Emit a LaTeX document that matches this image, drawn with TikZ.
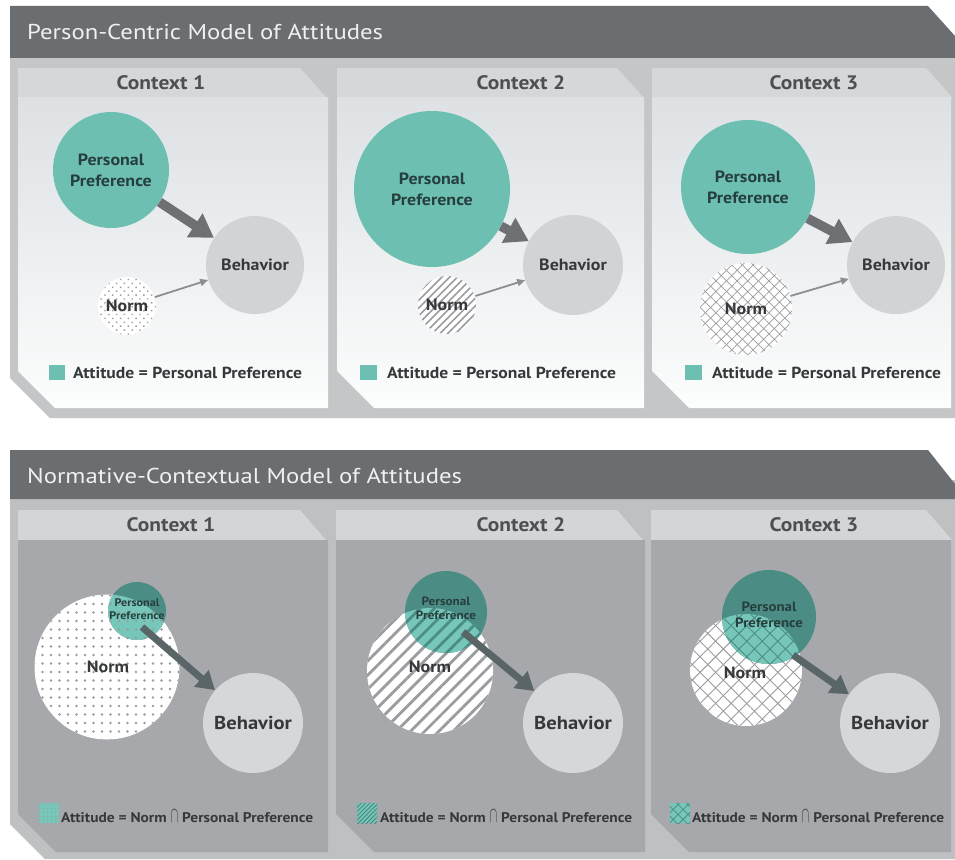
\documentclass[tikz,border=0pt]{standalone}
\usepackage{fontspec}
\setmainfont[FakeStretch=1.1]{PT Sans}
\newfontfamily\titlefont[FakeStretch=1.15]{PT Sans}
\usetikzlibrary{arrows.meta,patterns.meta}
\definecolor{hdr}{HTML}{6B6E70}
\definecolor{frameT}{HTML}{C4C6C8}
\definecolor{frameB}{HTML}{BEC0C2}
\definecolor{stripT}{HTML}{D5D7D9}
\definecolor{stripB}{HTML}{D3D5D7}
\definecolor{pantop}{HTML}{DDE1E4}
\definecolor{panbot}{HTML}{FCFDFD}
\definecolor{panB}{HTML}{A6A8AB}
\definecolor{behg}{HTML}{D1D3D4}
\definecolor{behgB}{HTML}{D5D7D9}
\definecolor{tealT}{HTML}{6DC0B1}
\definecolor{tealD}{HTML}{4B8D84}
\definecolor{tealL}{HTML}{76C7B9}
\definecolor{arrT}{HTML}{6E7073}
\definecolor{arrB}{HTML}{5A6567}
\definecolor{thinA}{HTML}{8C8E90}
\definecolor{txt}{HTML}{37383A}
\definecolor{ctxt}{HTML}{4E4F51}
\definecolor{pptxt}{HTML}{263F3E}
\definecolor{patg}{HTML}{9A9C9F}
\newcommand{\capsym}{\scalebox{0.8}[1.55]{$\cap$}}
\begin{document}
\begin{tikzpicture}[x=1pt,y=-1pt,
  titletext/.style={font=\titlefont\fontsize{21.5}{22}\selectfont, text=white!94!black, anchor=west, inner sep=0},
  ctx/.style={font=\fontsize{19.5}{20}\selectfont\bfseries, text=ctxt, inner sep=0},
  lbl/.style={font=\fontsize{16.3}{21}\selectfont\bfseries, text=txt, align=center, inner sep=0},
  pplbl/.style={lbl, text=pptxt},
  behlbl/.style={font=\fontsize{18.7}{20}\selectfont\bfseries, text=txt},
  smlbl/.style={font=\fontsize{11}{13}\selectfont\bfseries, text=pptxt, align=center, inner sep=0},
  legtext/.style={font=\fontsize{16}{17}\selectfont\bfseries, text=txt, anchor=west, inner sep=0},
  legtextB/.style={legtext, font=\fontsize{14}{17}\selectfont\bfseries},
  behT/.style={circle, fill=behg, inner sep=0, lbl},
  behB/.style={circle, fill=behgB, inner sep=0, lbl, behlbl},
  ppT/.style={circle, fill=tealT, inner sep=0, pplbl},
  ppB/.style={circle, fill=tealD, inner sep=0},
  normc/.style={circle, inner sep=0, preaction={fill=white}, pattern color=patg},
  thickarr/.style={draw=arrT, line width=9.5pt, -{Triangle[length=23pt,width=27pt]}},
  botarr/.style={draw=arrB, line width=7pt, -{Triangle[length=18pt,width=21pt]}},
  thinarr/.style={draw=thinA, line width=1.8pt, -{Triangle[length=8pt,width=7pt]}}
]
\useasboundingbox (0,0) rectangle (955,859);
\fill[white] (0,0) rectangle (955,859);

%================ TOP SECTION ================
\fill[frameT] (10,40) -- (955,40) -- (955,418) -- (50,418) -- (10,378) -- cycle;
\fill[hdr] (10,6) -- (928,6) -- (955,36) -- (955,58) -- (10,58) -- cycle;
\node[titletext] (t1) at (27,32) {Person-Centric Model of Attitudes};

% strips
\fill[stripT] (18,68) -- (300,68) -- (326,97) -- (18,97) -- cycle;
\fill[stripT] (337,68) -- (617,68) -- (643,97) -- (337,97) -- cycle;
\fill[stripT] (652,68) -- (926,68) -- (952,97) -- (652,97) -- cycle;
% panels
\shade[top color=pantop, bottom color=panbot] (18,97) -- (328,97) -- (328,408) -- (55,408) -- (18,371) -- cycle;
\shade[top color=pantop, bottom color=panbot] (337,97) -- (644,97) -- (644,408) -- (374,408) -- (337,371) -- cycle;
\shade[top color=pantop, bottom color=panbot] (652,97) -- (951,97) -- (951,408) -- (689,408) -- (652,371) -- cycle;

\node[ctx] (c1) at (161,83) {Context 1};
\node[ctx] (c2) at (521,83) {Context 2};
\node[ctx] (c3) at (814,83) {Context 3};

% panel 1
\node[ppT, minimum size=116pt] (pp1) at (111,170) {Personal\\Preference};
\node[behT, minimum size=98pt] (beh1) at (255,265) {Behavior};
\node[normc, minimum size=58pt, pattern={Dots[radius=1pt,distance=5.5pt,angle=45]}, lbl] (n1) at (127,306) {Norm};
\draw[thickarr] (pp1) -- (beh1);
\draw[thinarr] (n1) -- (beh1);
\fill[tealT] (49,365) rectangle (65,380);
\node[legtext] (l1) at (73,372.5) {Attitude = Personal Preference};

% panel 2
\node[ppT, minimum size=156pt] (pp2) at (432,189) {Personal\\Preference};
\node[behT, minimum size=100pt] (beh2) at (573,265) {Behavior};
\node[normc, minimum size=58pt, pattern={Lines[angle=45,distance=5.5pt,line width=1.6pt]}, lbl] (n2) at (447,305) {Norm};
\draw[thickarr] (pp2) -- (beh2);
\draw[thinarr] (n2) -- (beh2);
\fill[tealT] (360,365) rectangle (377,380);
\node[legtext] (l2) at (387,372.5) {Attitude = Personal Preference};

% panel 3
\node[normc, minimum size=92pt, pattern={Lines[angle=45,distance=7.5pt,line width=0.7pt]}] (n3) at (746,309) {};
\fill[pattern={Lines[angle=-45,distance=7.5pt,line width=0.7pt]}, pattern color=patg] (n3.center) circle[radius=46pt];
\node[lbl] (n3t) at (n3.center) {Norm};
\node[ppT, minimum size=134pt] (pp3) at (748,187) {Personal\\Preference};
\node[behT, minimum size=98pt] (beh3) at (896,265) {Behavior};
\draw[thickarr] (pp3) -- (beh3);
\draw[thinarr] (n3) -- (beh3);
\fill[tealT] (685,365) rectangle (702,380);
\node[legtext] (l3) at (712,372.5) {Attitude = Personal Preference};

%================ BOTTOM SECTION ================
\fill[frameB] (10,480) -- (955,480) -- (955,859) -- (45,859) -- (10,824) -- cycle;
\fill[hdr] (10,450) -- (928,450) -- (955,484) -- (955,499) -- (10,499) -- cycle;
\node[titletext] (t2) at (27,476) {Normative-Contextual Model of Attitudes};

\fill[stripB] (18,510) -- (300,510) -- (326,540) -- (18,540) -- cycle;
\fill[stripB] (336,510) -- (617,510) -- (643,540) -- (336,540) -- cycle;
\fill[stripB] (651,510) -- (926,510) -- (952,540) -- (651,540) -- cycle;
\fill[panB] (18,540) -- (328,540) -- (328,852) -- (56,852) -- (18,814) -- cycle;
\fill[panB] (336,540) -- (645,540) -- (645,852) -- (374,852) -- (336,814) -- cycle;
\fill[panB] (651,540) -- (951,540) -- (951,852) -- (689,852) -- (651,814) -- cycle;

\node[ctx] (c4) at (171,525) {Context 1};
\node[ctx] (c5) at (521,525) {Context 2};
\node[ctx] (c6) at (814,525) {Context 3};

% panel 4
\node[normc, minimum size=145pt, pattern={Dots[radius=1.4pt,distance=8.5pt]}] (n4) at (107,667) {};
\node[ppB, minimum size=58pt] (pp4) at (137,611) {};
\begin{scope}
  \clip (n4.center) circle[radius=72.5pt];
  \fill[tealL] (pp4.center) circle[radius=29pt];
  \fill[pattern={Dots[radius=1.4pt,distance=8.5pt]}, pattern color=patg] (pp4.center) circle[radius=29pt];
\end{scope}
\node[behB, minimum size=100pt] (beh4) at (253,723) {Behavior};
\coordinate (a4) at (142,627);
\draw[botarr] (a4) -- (beh4);
\node[smlbl] (pt4) at (137,609) {Personal\\Preference};
\node[lbl] (nt4) at (108,667) {Norm};
\fill[tealL] (39,803) rectangle (59,823);
\fill[pattern={Dots[radius=0.8pt,distance=4pt]}, pattern color=patg] (39,803) rectangle (59,823);
\node[legtextB] (l4) at (61,816) {Attitude = Norm \capsym{} Personal Preference};

% panel 5
\node[normc, minimum size=126pt, pattern={Lines[angle=45,distance=10pt,line width=2.8pt]}] (n5) at (430,671) {};
\node[ppB, minimum size=82pt] (pp5) at (446,612) {};
\begin{scope}
  \clip (n5.center) circle[radius=63pt];
  \fill[tealL] (pp5.center) circle[radius=41pt];
  \fill[pattern={Lines[angle=45,distance=10pt,line width=2.8pt]}, pattern color=tealD] (pp5.center) circle[radius=41pt];
\end{scope}
\node[behB, minimum size=100pt] (beh5) at (573,723) {Behavior};
\coordinate (a5) at (463,632);
\draw[botarr] (a5) -- (beh5);
\node[smlbl, font=\fontsize{12}{14}\selectfont\bfseries] (pt5) at (446,608) {Personal\\Preference};
\node[lbl] (nt5) at (430,667) {Norm};
\fill[tealL] (357,803) rectangle (377,823);
\fill[pattern={Lines[angle=45,distance=3pt,line width=1pt]}, pattern color=tealD] (357,803) rectangle (377,823);
\node[legtextB] (l5) at (380,816) {Attitude = Norm \capsym{} Personal Preference};

% panel 6
\node[normc, minimum size=112pt, pattern={Lines[angle=45,distance=11pt,line width=0.9pt]}] (n6) at (746,670) {};
\fill[pattern={Lines[angle=-45,distance=11pt,line width=0.9pt]}, pattern color=patg] (n6.center) circle[radius=56pt];
\node[ppB, minimum size=94pt] (pp6) at (769,617) {};
\begin{scope}
  \clip (n6.center) circle[radius=56pt];
  \fill[tealL] (pp6.center) circle[radius=47pt];
  \fill[pattern={Lines[angle=45,distance=11pt,line width=0.9pt]}, pattern color=tealD] (pp6.center) circle[radius=47pt];
  \fill[pattern={Lines[angle=-45,distance=11pt,line width=0.9pt]}, pattern color=tealD] (pp6.center) circle[radius=47pt];
\end{scope}
\node[behB, minimum size=100pt] (beh6) at (890,723) {Behavior};
\coordinate (a6) at (793,655);
\draw[botarr] (a6) -- (beh6);
\node[smlbl, font=\fontsize{13.5}{16}\selectfont\bfseries] (pt6) at (769,615) {Personal\\Preference};
\node[lbl] (nt6) at (745,673) {Norm};
\fill[tealL] (670,803) rectangle (690,823);
\fill[pattern={Lines[angle=45,distance=7pt,line width=0.8pt]}, pattern color=tealD] (670,803) rectangle (690,823);
\fill[pattern={Lines[angle=-45,distance=7pt,line width=0.8pt]}, pattern color=tealD] (670,803) rectangle (690,823);
\node[legtextB] (l6) at (692,816) {Attitude = Norm \capsym{} Personal Preference};
\end{tikzpicture}
\end{document}
